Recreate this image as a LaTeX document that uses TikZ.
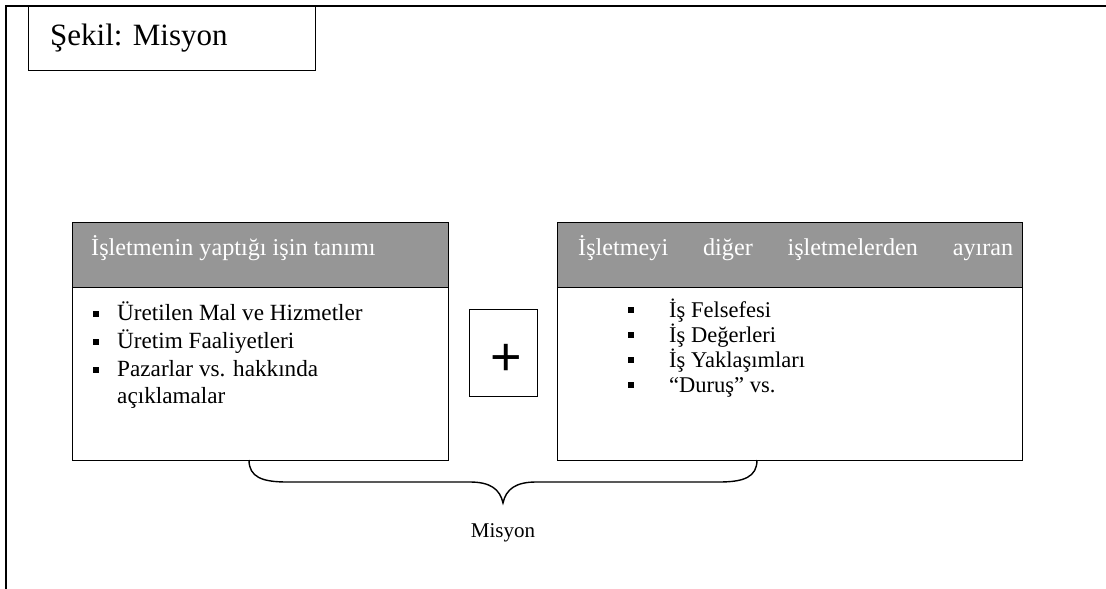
\documentclass[tikz,border=0pt]{standalone}
\usepackage{fontspec}
\setmainfont{Liberation Serif}
\newfontfamily\plusfont{Liberation Sans}
\definecolor{headgray}{RGB}{150,150,150}
\begin{document}
\begin{tikzpicture}[x=1pt,y=-1pt,
  frameline/.style={line width=2.4pt},
  boxline/.style={draw, line width=1.4pt},
  panel/.style={boxline, anchor=north west, inner sep=0pt},
  headpanel/.style={panel, fill=headgray},
  headtext/.style={anchor=base west, inner sep=0pt, text=white, font=\fontsize{24.2}{28}\selectfont},
  itemtext/.style={anchor=base west, inner sep=0pt, font=\fontsize{23.2}{28}\selectfont},
  bulletsq/.style={fill=black, inner sep=0pt, minimum size=5.5pt},
  bracepath/.style={line width=1.4pt}]
\useasboundingbox (0,0) rectangle (1106,589);

% outer frame: top and left rules only
\coordinate (frameTL) at (6,6);
\coordinate (frameTR) at (1106,6);
\coordinate (frameBL) at (6,589);
\draw[frameline] (frameTR) -- (frameTL) -- (frameBL);

% caption box
\node[panel, minimum width=287pt, minimum height=64pt] (caption) at (28,6) {};
\node[anchor=base west, inner sep=0pt, font=\fontsize{31}{36}\selectfont] (captiontext) at (50,45) {Şekil: Misyon};

% left panel
\node[headpanel, minimum width=376pt, minimum height=65pt] (lhead) at (72,222) {};
\node[panel, minimum width=376pt, minimum height=173pt] (lbody) at (72,287) {};
\node[headtext] (lheadtext) at (91,255) {İşletmenin yaptığı işin tanımı};

\foreach \i/\yy/\txt in {1/320/Üretilen Mal ve Hizmetler, 2/348/Üretim Faaliyetleri, 3/376/Pazarlar vs. hakkında}{
  \node[bulletsq] (lb\i) at (96,\yy-6) {};
  \node[itemtext] (li\i) at (117,\yy) {\txt};
}
\node[itemtext] (li4) at (117,403) {açıklamalar};

% plus box
\node[panel, minimum width=68pt, minimum height=87pt] (plusbox) at (469,309) {};
\node[anchor=base, inner sep=0pt, font=\plusfont\fontsize{54}{60}\selectfont] (plus) at (506,375.5) {+};

% right panel
\node[headpanel, minimum width=465pt, minimum height=65pt] (rhead) at (557,222) {};
\node[panel, minimum width=465pt, minimum height=173pt] (rbody) at (557,287) {};
\node[headtext] (rheadtext) at (578,255) {\hbox to 435pt{İşletmeyi\hfill diğer\hfill işletmelerden\hfill ayıran}};

\foreach \i/\yy/\txt in {1/317/İş Felsefesi, 2/342/İş Değerleri, 3/367/İş Yaklaşımları, 4/392/``Duruş'' vs.}{
  \node[bulletsq] (rb\i) at (631,\yy-7) {};
  \node[itemtext, font=\fontsize{22.5}{25}\selectfont] (ri\i) at (669,\yy) {\txt};
}

% brace under both panels
\coordinate (braceL) at (249,460);
\coordinate (braceR) at (757,460);
\coordinate (braceTip) at (503,503);
\draw[bracepath] (braceL) .. controls (249,477) and (262,482) .. (287,482)
  -- (470,482) .. controls (490,482) and (500,489) .. (braceTip)
  .. controls (506,489) and (516,482) .. (536,482)
  -- (719,482) .. controls (744,482) and (757,477) .. (braceR);
\node[anchor=base, inner sep=0pt, font=\fontsize{21}{25}\selectfont] (mission) at (503,537) {Misyon};
\end{tikzpicture}
\end{document}
